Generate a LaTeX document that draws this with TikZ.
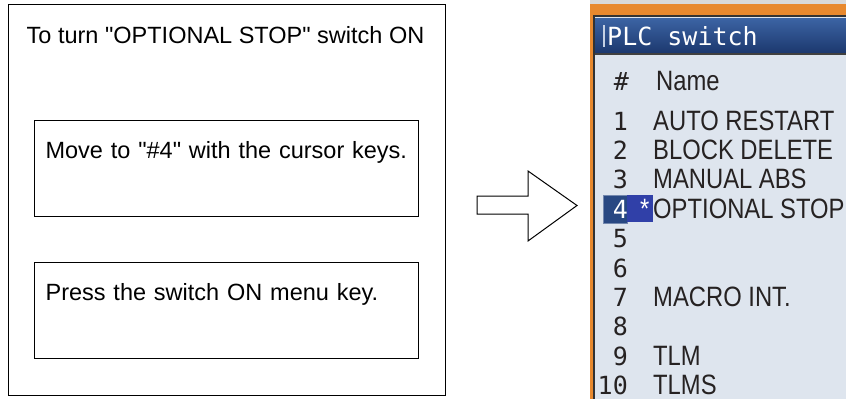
\documentclass[tikz,border=0pt]{standalone}
\usepackage{fontspec}
\setmainfont{Liberation Sans}
\newfontfamily\scrsans[FakeStretch=0.85]{Liberation Sans}
\newfontfamily\scrmono{DejaVu Sans Mono}
\usepackage{tikz}
\usetikzlibrary{positioning}
\definecolor{rim}{RGB}{232,137,46}
\definecolor{barhi}{RGB}{60,100,164}
\definecolor{barlo}{RGB}{28,56,110}
\definecolor{pane}{RGB}{222,229,238}
\definecolor{selnum}{RGB}{40,72,130}
\definecolor{selstar}{RGB}{48,64,168}
\definecolor{ink}{RGB}{38,34,34}

\begin{document}
\begin{tikzpicture}[x=1pt,y=-1pt,
  txt/.style={font=\fontsize{23.5}{28}\selectfont,inner sep=0pt},
  stepbox/.style={txt,draw,line width=1.2pt,anchor=north west,inner xsep=11pt,inner ysep=0pt,
    text width=362pt,align=left,text height=38pt,text depth=58pt},
  numtxt/.style={font=\scrmono\fontsize{25}{30}\selectfont,anchor=base east,inner sep=0pt},
  nametxt/.style={font=\scrsans\fontsize{28}{32}\selectfont,text=ink,anchor=base west,inner sep=0pt}]
\useasboundingbox (0,0) rectangle (846,399);

% ---------- left: the two steps ----------
\node[draw,line width=1.2pt,anchor=north west,minimum width=437pt,minimum height=391pt,inner sep=0pt] (frame) at (8,4) {};
\node[txt,anchor=base] (head) at (225.5,43) {To turn \textquotedbl OPTIONAL STOP\textquotedbl\ switch ON};
\node[stepbox] (move) at (34,120) {Move to \textquotedbl\#4\textquotedbl\ with the cursor keys.};
\node[stepbox] (press) at (34,262) {Press the switch ON menu key.};

% ---------- block arrow ----------
\draw[line width=1pt,line join=miter] (477,196) -- (528,196) -- (528,171) -- (577,205.5) -- (528,241) -- (528,214) -- (477,214) -- cycle;

% ---------- right: the PLC switch screen ----------
\fill[gray!30] (590,0) rectangle (846,4);
\fill[rim] (590,4) rectangle (846,399);
\fill[black!80] (593,15) rectangle (846,399);
\fill[pane] (595,17) rectangle (846,399);
\shade[top color=barhi,bottom color=barlo] (595,18) rectangle (846,53);
\fill[black!75] (595,53) rectangle (846,55);
\fill[white!70!barhi] (603,25) rectangle (605,47);
\node[font=\scrmono\fontsize{25}{30}\selectfont,text=white,anchor=base west,inner sep=0pt] (title) at (607,45) {PLC switch};

% header row
\node[numtxt,text=ink] (hash) at (629,90) {\#};
\node[nametxt] (hname) at (656,90) {Name};

% selected row
\fill[selnum,draw=white!35!selnum] (603,195) rectangle (627,223);
\fill[selstar] (627,195) rectangle (653,222);
\node[nametxt,text=white] (star) at (640,218.5) {*};

% rows
\foreach \n/\nm/\c [count=\i from 0] in {1/AUTO RESTART/ink,2/BLOCK DELETE/ink,3/MANUAL ABS/ink,
    4/OPTIONAL STOP/white,5//ink,6//ink,7/MACRO INT./ink,8//ink,9/TLM/ink,10/TLMS/ink} {
  \node[numtxt,text=\c] (num\n) at (628,{130+\i*29.4}) {\n};
  \node[nametxt] (name\n) at (653,{130+\i*29.4}) {\nm};
}
\end{tikzpicture}
\end{document}
